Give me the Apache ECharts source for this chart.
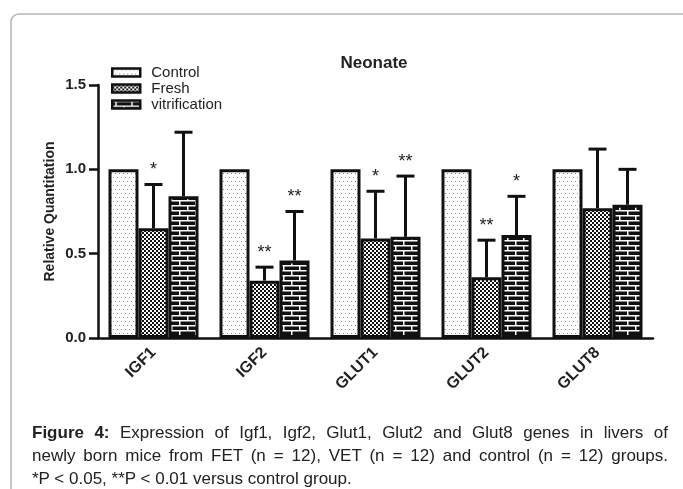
<!DOCTYPE html>
<html>
<head>
<meta charset="utf-8">
<script src="https://cdn.jsdelivr.net/npm/echarts@6/dist/echarts.min.js"></script>
<style>
  html, body { margin: 0; padding: 0; background: #fff; }
  #wrap { position: relative; width: 683px; height: 489px; overflow: hidden; }
  #chart { width: 683px; height: 489px; }
  #caption {
    position: absolute; left: 32px; top: 421px; width: 636px;
    font: 17px/23px "Liberation Sans", Arial, sans-serif; color: #222;
  }
  #caption .j { text-align: justify; text-align-last: justify; white-space: nowrap; }
  #caption b { font-weight: bold; }
</style>
</head>
<body>
<div id="wrap">
  <div id="chart"></div>
  <div id="caption"></div>
</div>
<script>
const categories = ['IGF1', 'IGF2', 'GLUT1', 'GLUT2', 'GLUT8'];
const controlValues = [1, 1, 1, 1, 1];
const freshValues = [0.65, 0.34, 0.59, 0.36, 0.77];
const freshErrors = [0.26, 0.08, 0.28, 0.22, 0.35];
const freshStars = ['*', '**', '*', '**', ''];
const vitrValues = [0.84, 0.46, 0.60, 0.61, 0.79];
const vitrErrors = [0.38, 0.29, 0.36, 0.23, 0.21];
const vitrStars = ['', '**', '**', '*', ''];
const yTicks = ['0.0', '0.5', '1.0', '1.5'];
const captionLabel = 'Figure 4:';
const captionLines = [
  'Expression of Igf1, Igf2, Glut1, Glut2 and Glut8 genes in livers of',
  'newly born mice from FET (n = 12), VET (n = 12) and control (n = 12) groups.',
  '*P < 0.05, **P < 0.01 versus control group.',
];

const FONT = '"Liberation Sans", Arial, sans-serif';

// caption lines, first two justified like the printed figure
const cap = document.getElementById('caption');
captionLines.forEach((line, i) => {
  const div = document.createElement('div');
  if (i < 2) div.className = 'j';
  if (i === 0) {
    const b = document.createElement('b');
    b.textContent = captionLabel;
    div.appendChild(b);
    div.appendChild(document.createTextNode(' ' + line));
  } else {
    div.textContent = line;
  }
  cap.appendChild(div);
});

// hatch-like fills, drawn on small canvases
const makePattern = (w, h, draw) => {
  const c = document.createElement('canvas');
  c.width = w;
  c.height = h;
  draw(c.getContext('2d'));
  return { image: c, repeat: 'repeat' };
};

const dotsFill = makePattern(8, 8, (ctx) => {
  ctx.fillStyle = '#fff';
  ctx.fillRect(0, 0, 8, 8);
  ctx.fillStyle = '#888';
  ctx.fillRect(1, 1, 1, 1);
  ctx.fillRect(5, 1, 1, 1);
  ctx.fillRect(3, 5, 1, 1);
  ctx.fillRect(7, 5, 1, 1);
});

const checkFill = makePattern(4, 4, (ctx) => {
  ctx.fillStyle = '#111';
  ctx.fillRect(0, 0, 4, 4);
  ctx.fillStyle = '#fff';
  ctx.fillRect(0, 0, 2, 2);
  ctx.fillRect(2, 2, 2, 2);
});

const brickFill = makePattern(16, 10, (ctx) => {
  ctx.fillStyle = '#111';
  ctx.fillRect(0, 0, 16, 10);
  ctx.fillStyle = '#fff';
  ctx.fillRect(0, 0, 16, 1.5);
  ctx.fillRect(0, 5, 16, 1.5);
  ctx.fillRect(3, 0, 1.5, 5);
  ctx.fillRect(11, 5, 1.5, 5);
});

const BAR_W = 30;

const errorSeries = (values, errors, stars, offset) => ({
  type: 'custom',
  z: 5,
  silent: true,
  data: values.map((v, i) => [i, v, errors[i]]),
  renderItem: (params, api) => {
    const base = api.coord([api.value(0), api.value(1)]);
    const top = api.coord([api.value(0), api.value(1) + api.value(2)]);
    const x = base[0] + offset;
    const lineStyle = { stroke: '#111', lineWidth: 3 };
    return {
      type: 'group',
      children: [
        { type: 'line', shape: { x1: x, y1: base[1], x2: x, y2: top[1] }, style: lineStyle },
        { type: 'line', shape: { x1: x - 9, y1: top[1], x2: x + 9, y2: top[1] }, style: lineStyle },
        {
          type: 'text',
          style: {
            text: stars[params.dataIndex],
            x: x,
            y: top[1] - 5,
            align: 'center',
            verticalAlign: 'bottom',
            font: '18px ' + FONT,
            fill: '#222',
          },
        },
      ],
    };
  },
});

const barSeries = (name, values, fill) => ({
  name: name,
  type: 'bar',
  barWidth: BAR_W,
  barGap: '0%',
  data: values,
  itemStyle: { color: fill, borderColor: '#111', borderWidth: 3 },
});

const chart = echarts.init(document.getElementById('chart'), null, { renderer: 'canvas' });

const option = {
  animation: false,
  backgroundColor: 'transparent',
  title: {
    text: 'Neonate',
    left: 369,
    top: 50,
    textAlign: 'center',
    textStyle: { fontFamily: FONT, fontSize: 17, fontWeight: 'bold', color: '#222' },
  },
  legend: {
    orient: 'vertical',
    left: 111,
    top: 65,
    padding: 0,
    itemWidth: 28,
    itemHeight: 8,
    itemGap: 1,
    icon: 'rect',
    data: ['Control', 'Fresh', 'vitrification'],
    itemStyle: { borderColor: '#111', borderWidth: 2.5 },
    textStyle: { fontFamily: FONT, fontSize: 15, lineHeight: 14, color: '#222', padding: [0, 0, 0, 6] },
  },
  grid: { left: 98, right: 30, top: 85, bottom: 151 },
  xAxis: {
    type: 'category',
    data: categories,
    axisLine: { lineStyle: { color: '#111', width: 2.5 } },
    axisTick: { alignWithLabel: true, length: 8, lineStyle: { width: 2.5, color: '#111' } },
    axisLabel: {
      rotate: 45,
      margin: 12,
      fontFamily: FONT,
      fontSize: 16,
      fontWeight: 'bold',
      color: '#222',
    },
  },
  yAxis: {
    type: 'value',
    min: 0,
    max: 1.5,
    interval: 0.5,
    name: 'Relative Quantitation',
    nameLocation: 'middle',
    nameGap: 41,
    nameMoveOverlap: false,
    nameTextStyle: { fontFamily: FONT, fontSize: 14, fontWeight: 'bold', color: '#222' },
    splitLine: { show: false },
    axisLine: { show: true, lineStyle: { color: '#111', width: 2.5 } },
    axisTick: { show: true, length: 9, lineStyle: { width: 2.5, color: '#111' } },
    axisLabel: {
      margin: 12,
      fontFamily: FONT,
      fontSize: 15,
      fontWeight: 'bold',
      color: '#222',
      formatter: (v) => yTicks[Math.round(v / 0.5)],
    },
  },
  series: [
    barSeries('Control', controlValues, dotsFill),
    barSeries('Fresh', freshValues, checkFill),
    barSeries('vitrification', vitrValues, brickFill),
    errorSeries(freshValues, freshErrors, freshStars, 0),
    errorSeries(vitrValues, vitrErrors, vitrStars, BAR_W),
  ],
  graphic: [
    {
      type: 'rect',
      z: -10,
      shape: { x: 11, y: 14, width: 720, height: 520, r: 8 },
      style: { fill: 'none', stroke: '#b5b5b5', lineWidth: 1.5 },
    },
  ],
};

chart.setOption(option);
</script>
</body>
</html>
